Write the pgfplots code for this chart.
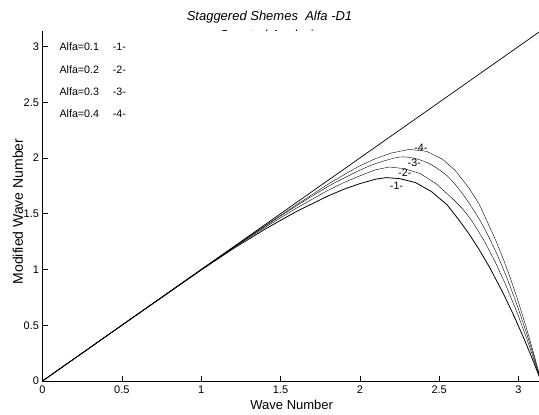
\documentclass[border=0pt]{standalone}
\usepackage{pgfplots}
\pgfplotsset{compat=1.18}
\usepackage{fontspec}
\setmainfont{Liberation Sans}

\begin{document}
\begin{tikzpicture}
\begin{axis}[
  scale only axis, width=498.5pt, height=350.3pt,
  xmin=0, xmax=3.14159, ymin=0, ymax=3.14159,
  axis x line*=bottom, axis y line*=left,
  axis line style={black, line width=0.8pt},
  tick align=inside, major tick length=5pt,
  tick style={black, line width=0.6pt},
  xtick={0,0.5,1,1.5,2,2.5,3}, ytick={0,0.5,1,1.5,2,2.5,3},
  /pgf/number format/assume math mode=true,
  tick label style={font=\fontsize{11}{13}\selectfont},
  xticklabel style={yshift=-1pt},
  xlabel={Wave Number},
  ylabel={Modified Wave Number},
  xlabel style={font=\fontsize{13}{15}\selectfont, at={(axis description cs:0.5,0)}, anchor=base, yshift=-28.5pt},
  ylabel style={font=\fontsize{14}{16}\selectfont, at={([xshift=-19.5pt]axis description cs:0,0.484)}, anchor=base},
  clip=false,
  cycle list={{black, line width=0.8pt, mark=none, smooth, tension=0.45}},
]
\coordinate (bl) at (rel axis cs:0,0);
\coordinate (tr) at (rel axis cs:1,1);
\coordinate (tl) at (rel axis cs:0,1);

% exact (diagonal)
\addplot+[sharp plot, line width=0.7pt] coordinates {(0,0) (3.14159,3.14159)};

% Alfa = 0.1
\addplot coordinates {
(0,0) (0.5,0.5) (1.0,0.995) (1.2,1.185) (1.4,1.36) (1.6,1.52) (1.8,1.66)
(1.9,1.72) (2.0,1.77) (2.1,1.81) (2.165,1.824) (2.25,1.815) (2.35,1.78)
(2.45,1.70) (2.55,1.58) (2.626,1.441) (2.689,1.317) (2.75,1.183) (2.82,1.013)
(2.9,0.796) (2.97,0.588) (3.04,0.361) (3.09,0.188) (3.14159,0)};

% Alfa = 0.2
\addplot coordinates {
(0,0) (0.5,0.5) (1.0,0.998) (1.2,1.192) (1.4,1.375) (1.6,1.55) (1.8,1.71)
(1.9,1.78) (2.0,1.84) (2.1,1.895) (2.186,1.919) (2.28,1.905) (2.38,1.86)
(2.48,1.77) (2.58,1.64) (2.65,1.54) (2.704,1.441) (2.78,1.266) (2.85,1.076)
(2.92,0.860) (2.99,0.617) (3.05,0.388) (3.1,0.181) (3.14159,0)};

% Alfa = 0.3
\addplot coordinates {
(0,0) (0.5,0.5) (1.0,0.999) (1.2,1.195) (1.4,1.385) (1.6,1.57) (1.8,1.745)
(1.9,1.82) (2.0,1.89) (2.1,1.95) (2.248,2.008) (2.35,1.995) (2.45,1.94)
(2.55,1.84) (2.62,1.73) (2.689,1.594) (2.757,1.441) (2.82,1.271) (2.88,1.085)
(2.94,0.875) (3.0,0.642) (3.05,0.431) (3.1,0.203) (3.14159,0)};

% Alfa = 0.4
\addplot coordinates {
(0,0) (0.5,0.5) (1.0,1.0) (1.2,1.197) (1.4,1.39) (1.6,1.58) (1.8,1.765)
(1.9,1.85) (2.0,1.93) (2.1,1.995) (2.2,2.045) (2.311,2.077) (2.42,2.06)
(2.52,1.99) (2.6,1.89) (2.689,1.728) (2.75,1.59) (2.799,1.441) (2.86,1.250)
(2.908,1.080) (2.95,0.917) (3.0,0.705) (3.05,0.474) (3.1,0.225) (3.14159,0)};

% curve labels
\begin{scope}[every node/.style={font=\fontsize{10.7}{12}\selectfont, inner sep=0pt}]
\node at (axis cs:2.231,1.748) {-1-};
\node at (axis cs:2.284,1.865) {-2-};
\node at (axis cs:2.343,1.958) {-3-};
\node at (axis cs:2.385,2.092) {-4-};
% legend text
\node[anchor=west] at (axis cs:0.106,2.994) {Alfa=0.1};
\node[anchor=west] at (axis cs:0.106,2.793) {Alfa=0.2};
\node[anchor=west] at (axis cs:0.106,2.596) {Alfa=0.3};
\node[anchor=west] at (axis cs:0.106,2.395) {Alfa=0.4};
\node[anchor=west] at (axis cs:0.4415,2.994) {-1-};
\node[anchor=west] at (axis cs:0.4415,2.793) {-2-};
\node[anchor=west] at (axis cs:0.4415,2.596) {-3-};
\node[anchor=west] at (axis cs:0.4415,2.395) {-4-};
\end{scope}
\end{axis}

% title (second line partly hidden by the axes, as in the original)
\begin{scope}
\clip ([xshift=-60pt]tl) rectangle ([xshift=20pt,yshift=40pt]tr);
\node[font=\itshape\fontsize{13}{15}\selectfont, anchor=base, inner sep=0pt]
  at ([xshift=227pt,yshift=9.7pt]tl) {Staggered Shemes\ \ Alfa -D1};
\node[font=\itshape\fontsize{13}{15}\selectfont, anchor=base, inner sep=0pt]
  at ([xshift=227pt,yshift=-9pt]tl) {Spectral Analysis};
\end{scope}

\pgfresetboundingbox
\path ([xshift=-42.5pt,yshift=-34pt]bl) rectangle ([xshift=-2pt,yshift=30.7pt]tr);
\end{tikzpicture}
\end{document}
